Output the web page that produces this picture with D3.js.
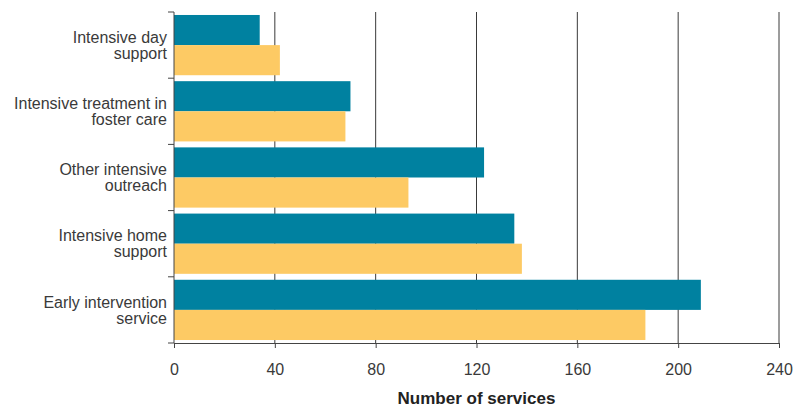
<!DOCTYPE html>
<html>
<head>
<meta charset="utf-8">
<script src="https://cdn.jsdelivr.net/npm/d3@7"></script>
<style>
  html, body { margin: 0; padding: 0; background: #fff; }
  svg { display: block; }
  text { font-family: "Liberation Sans", Arial, Helvetica, sans-serif; }
</style>
</head>
<body>
<svg id="chart" width="795" height="408"></svg>
<script>
const categories = [
  ["Intensive day", "support"],
  ["Intensive treatment in", "foster care"],
  ["Other intensive", "outreach"],
  ["Intensive home", "support"],
  ["Early intervention", "service"]
];
const seriesNames = ["Series A", "Series B"];
const seriesA = [34, 70, 123, 135, 209];
const seriesB = [42, 68, 93, 138, 187];
const xTicks = [0, 40, 80, 120, 160, 200, 240];
const xTitle = "Number of services";
const colors = ["#0081a0", "#fdca64"];

(function () {
const svg = d3.select("#chart");
const mLeft = 174, mRight = 779, mTop = 12, mBottom = 343;

const catKeys = categories.map(c => c.join(" "));
const x = d3.scaleLinear().domain([0, 240]).range([mLeft, mRight]);
const y0 = d3.scaleBand().domain(catKeys).range([mTop, mBottom]).paddingInner(0.09).paddingOuter(0.045);
const y1 = d3.scaleBand().domain(seriesNames).range([0, y0.bandwidth()]);
const yBound = d3.scaleBand().domain(catKeys).range([mTop, mBottom]);

// gridlines
svg.append("g").selectAll("line").data(xTicks.slice(1)).join("line")
  .attr("x1", d => x(d)).attr("x2", d => x(d))
  .attr("y1", mTop).attr("y2", mBottom)
  .attr("stroke", "#3a3a3a").attr("stroke-width", 1);

// bars
const data = catKeys.map((k, i) => ({ key: k, values: [seriesA[i], seriesB[i]] }));
const g = svg.append("g").selectAll("g").data(data).join("g")
  .attr("transform", d => `translate(0,${y0(d.key)})`);
g.selectAll("rect").data(d => d.values.map((v, j) => ({ name: seriesNames[j], v, j })))
  .join("rect")
  .attr("x", x(0))
  .attr("y", d => y1(d.name))
  .attr("width", d => x(d.v) - x(0))
  .attr("height", y1.bandwidth())
  .attr("fill", d => colors[d.j]);

// x axis
const xAxis = d3.axisBottom(x).tickValues(xTicks).tickSize(5).tickPadding(16).tickFormat(d3.format("d"));
const xg = svg.append("g").attr("transform", `translate(0,${mBottom})`).call(xAxis);
xg.select(".domain").attr("stroke", "#444");
xg.selectAll(".tick line").attr("stroke", "#444");
xg.selectAll(".tick text").attr("font-size", 16).attr("fill", "#3a3a3a")
  .style("font-family", "'Liberation Sans', Arial, sans-serif");

// y axis line and boundary ticks
svg.append("line").attr("x1", mLeft).attr("x2", mLeft).attr("y1", mTop).attr("y2", mBottom)
  .attr("stroke", "#444");
const bounds = catKeys.map(k => yBound(k)).concat([mBottom]);
svg.append("g").selectAll("line").data(bounds).join("line")
  .attr("x1", mLeft - 6).attr("x2", mLeft)
  .attr("y1", d => d).attr("y2", d => d)
  .attr("stroke", "#444");

// category labels
const lab = svg.append("g").selectAll("text").data(categories).join("text")
  .attr("text-anchor", "end")
  .attr("font-size", 16)
  .attr("fill", "#3a3a3a")
  .attr("transform", (d, i) => `translate(${mLeft - 7},${y0(catKeys[i]) + y0.bandwidth() / 2})`);
lab.selectAll("tspan").data(d => d).join("tspan")
  .attr("x", 0)
  .attr("y", (d, i, n) => (i - (n.length - 1) / 2) * 16)
  .attr("dy", "0.35em")
  .text(d => d);

// x title
svg.append("text")
  .attr("x", (mLeft + mRight) / 2)
  .attr("y", 404)
  .attr("text-anchor", "middle")
  .attr("font-size", 17)
  .attr("font-weight", "bold")
  .attr("fill", "#222")
  .text(xTitle);
})();
</script>
</body>
</html>
